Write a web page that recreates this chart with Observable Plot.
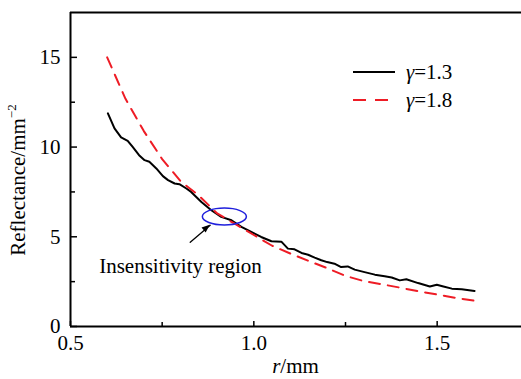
<!DOCTYPE html>
<html><head><meta charset="utf-8">
<script src="https://cdn.jsdelivr.net/npm/d3@7"></script>
<script src="https://cdn.jsdelivr.net/npm/@observablehq/plot@0.6"></script>
<style>body{margin:0;background:#fff} svg{display:block} svg text{font-family:"Liberation Serif","Times New Roman",serif}</style>
</head><body><div id="chart"></div>
<script>
// gamma = 1.3 (solid black)
const r13 = [0.602,0.62,0.638,0.656,0.669,0.687,0.702,0.715,0.734,0.752,0.766,0.784,0.797,0.816,0.829,0.857,0.884,0.911,0.939,0.966,0.993,1.02,1.048,1.075,1.093,1.111,1.13,1.148,1.166,1.184,1.20,1.22,1.238,1.256,1.275,1.302,1.33,1.357,1.376,1.398,1.416,1.448,1.48,1.499,1.517,1.54,1.567,1.602];
const v13 = [11.88,11.04,10.54,10.35,10.02,9.55,9.27,9.18,8.81,8.38,8.16,7.97,7.93,7.69,7.50,6.94,6.48,6.11,5.92,5.55,5.27,4.99,4.75,4.73,4.34,4.30,4.10,4.0,3.84,3.69,3.59,3.50,3.31,3.35,3.17,3.03,2.89,2.80,2.73,2.57,2.63,2.42,2.23,2.33,2.23,2.11,2.08,1.98];
// gamma = 1.8 (dashed red)
const r18 = [0.6,0.65,0.7,0.75,0.8,0.85,0.9,0.95,1.0,1.05,1.1,1.15,1.2,1.25,1.3,1.35,1.4,1.45,1.5,1.55,1.6];
const v18 = [15.0,12.69,10.89,9.33,8.1,7.3,6.3,5.7,5.1,4.5,4.06,3.65,3.25,2.82,2.53,2.35,2.16,1.96,1.78,1.6,1.44];
const seriesNames = ["γ=1.3","γ=1.8"];
const xTicks = [0.5,1.0,1.5];
const xMinor = [0.75,1.25];
const yTicks = [0,5,10,15];
const yMinor = [2.5,7.5,12.5];
const annotation = "Insensitivity region";
const ellipseCenter = {x:0.921, y:6.1, rx:0.06, ry:0.47};
const arrowData = [{x1:0.8265,y1:4.69,x2:0.881,y2:5.64}];
const labelPos = [{x:0.8, y:3.35, t:annotation}];

const d13 = r13.map((r,i)=>({r, v:v13[i]}));
const d18 = r18.map((r,i)=>({r, v:v18[i]}));
const RED = "#ee1c25";
const ff = '"Liberation Serif", "Times New Roman", serif';
const FS = 21;

const plot = Plot.plot({
  width:521, height:379,
  marginLeft:70, marginTop:12, marginBottom:53, marginRight:0,
  style:{fontFamily:ff, fontSize:FS+"px", background:"#fff", color:"#000"},
  x:{domain:[0.5,1.73]},
  y:{domain:[0,17.5]},
  marks:[
    Plot.axisX({ticks:xTicks, tickSize:-5, tickFormat:()=>"", label:null, strokeWidth:1.5}),
    Plot.axisX({ticks:xMinor, tickSize:-4, tickFormat:()=>"", label:null, strokeWidth:1.5}),
    Plot.axisX({ticks:xTicks, tickSize:0, tickPadding:9, tickFormat:d3.format(".1f"), label:null, fontSize:FS}),
    Plot.axisY({ticks:yTicks, tickSize:-7, tickFormat:()=>"", label:null, strokeWidth:1.5}),
    Plot.axisY({ticks:yMinor, tickSize:-5, tickFormat:()=>"", label:null, strokeWidth:1.5}),
    Plot.axisY({ticks:yTicks, tickSize:0, tickPadding:10, tickFormat:d3.format("d"), label:null, fontSize:FS}),
    Plot.ruleX([0.5], {strokeWidth:2}),
    Plot.ruleY([0, 17.5], {strokeWidth:2}),
    Plot.line(d13, {x:"r", y:"v", stroke:"#000", strokeWidth:2}),
    Plot.line(d18, {x:"r", y:"v", stroke:RED, strokeWidth:2, strokeDasharray:"11,8"}),
    Plot.arrow(arrowData, {x1:"x1", y1:"y1", x2:"x2", y2:"y2", stroke:"#000", strokeWidth:1.3, headLength:0}),
    Plot.text(labelPos, {x:"x", y:"y", text:"t", fontSize:FS, textAnchor:"middle"})
  ]
});
document.getElementById("chart").appendChild(plot);

const svg = d3.select(plot);
const xs = plot.scale("x"), ys = plot.scale("y");
// ellipse
const cx = xs.apply(ellipseCenter.x), cy = ys.apply(ellipseCenter.y);
svg.append("ellipse")
  .attr("cx", cx).attr("cy", cy)
  .attr("rx", xs.apply(ellipseCenter.x + ellipseCenter.rx) - cx)
  .attr("ry", cy - ys.apply(ellipseCenter.y + ellipseCenter.ry))
  .attr("fill","none").attr("stroke","#1f1fdc").attr("stroke-width",1.5);

// filled arrow head
{
  const a = arrowData[0];
  const hx = xs.apply(a.x2), hy = ys.apply(a.y2);
  const tx = xs.apply(a.x1), ty = ys.apply(a.y1);
  const ang = Math.atan2(hy - ty, hx - tx);
  const L = 8, W = 3.2;
  const bx = hx - L*Math.cos(ang), by = hy - L*Math.sin(ang);
  const px = -Math.sin(ang), py = Math.cos(ang);
  svg.append("path")
    .attr("d", `M${hx},${hy}L${bx+W*px},${by+W*py}L${bx-W*px},${by-W*py}Z`)
    .attr("fill","#000");
}

// axis labels
const xl = svg.append("text").attr("x", (70+521)/2).attr("y", 373)
  .attr("text-anchor","middle").attr("font-family",ff).attr("font-size",FS);
xl.append("tspan").attr("font-style","italic").text("r");
xl.append("tspan").text("/mm");

const yl = svg.append("text").attr("transform","translate(25,180) rotate(-90)")
  .attr("text-anchor","middle").attr("font-family",ff).attr("font-size",FS);
yl.append("tspan").text("Reflectance/mm");
yl.append("tspan").attr("font-size",13).attr("dy",-9).text("−2");

// legend
const lg = svg.append("g").attr("font-family",ff).attr("font-size",FS).attr("text-anchor","start");
[[72,"#000",null],[100,RED,"13,9"]].forEach(([y,c,da],i)=>{
  lg.append("line").attr("x1",353).attr("x2",395).attr("y1",y).attr("y2",y)
    .attr("stroke",c).attr("stroke-width",2).attr("stroke-dasharray",da);
  const t = lg.append("text").attr("x",406).attr("y",y).attr("dy","0.35em");
  t.append("tspan").attr("font-style","italic").text(seriesNames[i].slice(0,1));
  t.append("tspan").text(seriesNames[i].slice(1));
});
svg.selectAll("text").attr("font-family", ff);
</script>
</body></html>
